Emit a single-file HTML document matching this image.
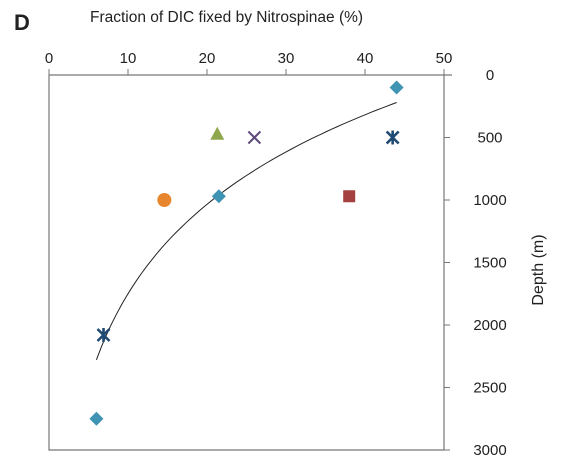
<!DOCTYPE html>
<html><head><meta charset="utf-8"><style>
body{margin:0;background:#fff;}
svg text{font-family:"Liberation Sans",sans-serif;fill:#222;}
</style></head><body>
<svg id="c" width="567" height="466" xmlns="http://www.w3.org/2000/svg">
<text x="14" y="30" font-size="22" font-weight="bold">D</text>
<text x="90" y="22" font-size="15.5">Fraction of DIC fixed by Nitrospinae (%)</text>
<text transform="translate(543,270) rotate(-90)" text-anchor="middle" font-size="16">Depth (m)</text>
<g id="axes"></g><g id="marks"></g>
</svg>
<script>
const xTicks=[0,10,20,30,40,50];
const yTicks=[0,500,1000,1500,2000,2500,3000];
const pointX=[44,21.3,26,43.5,14.6,21.5,38,6.9,6];
const pointY=[100,470,500,500,1000,970,970,2080,2750];
const pointShape=['diamond','triangle','x','asterisk','circle','diamond','square','asterisk','diamond'];
const fitA=4129, fitB=1033, fitX0=6, fitX1=44;
const L=49,R=444,T=75,B=450;
const sx=v=>L+(R-L)*v/50, sy=v=>T+(B-T)*v/3000;
const NS='http://www.w3.org/2000/svg';
const ax=document.getElementById('axes'), mk=document.getElementById('marks');
function mkEl(t,a,p){const e=document.createElementNS(NS,t);for(const k in a)e.setAttribute(k,a[k]);p.appendChild(e);return e;}
const frame=mkEl('path',{d:`M${L},${T}H${R+8}M${L},${T}V${B}H${R}V${T}`,stroke:'#777',fill:'none','stroke-width':1.2},ax);


xTicks.forEach(v=>{
 const x=sx(v);
 const t=mkEl('line',{x1:x,x2:x,y1:T-6,y2:T,stroke:'#777'},ax);
 
 
 const l=mkEl('text',{x:x,y:T-12,'text-anchor':'middle','font-size':15},ax);l.textContent=v;
 
 
});
yTicks.forEach(v=>{
 const y=sy(v);
 const t=mkEl('line',{x1:R,x2:R+6,y1:y,y2:y,stroke:'#777'},ax);
 
 
 const l=mkEl('text',{x:490,y:y+5,'text-anchor':'middle','font-size':15},ax);l.textContent=v;
 
 
});
let d='';
for(let i=0;i<=60;i++){const xv=fitX0+(fitX1-fitX0)*i/60;const yv=fitA-fitB*Math.log(xv);d+=(i?'L':'M')+sx(xv).toFixed(1)+','+sy(yv).toFixed(1);}
const fit=mkEl('path',{d:d,stroke:'#222',fill:'none','stroke-width':1},mk);


pointX.forEach((xv,i)=>{
 const x=sx(xv),y=sy(pointY[i]),s=pointShape[i];let e;
 if(s==='diamond')e=mkEl('path',{d:`M${x},${y-7}L${x+7},${y}L${x},${y+7}L${x-7},${y}Z`,fill:'#3f93b3'},mk);
 else if(s==='triangle')e=mkEl('path',{d:`M${x},${y-7}L${x+7},${y+6}L${x-7},${y+6}Z`,fill:'#8ea64c'},mk);
 else if(s==='x')e=mkEl('path',{d:`M${x-6},${y-6}L${x+6},${y+6}M${x+6},${y-6}L${x-6},${y+6}`,stroke:'#5e4a7a','stroke-width':2},mk);
 else if(s==='asterisk')e=mkEl('path',{d:`M${x-6},${y-6}L${x+6},${y+6}M${x+6},${y-6}L${x-6},${y+6}M${x},${y-7}V${y+7}`,stroke:'#1f4a74','stroke-width':2.6},mk);
 else if(s==='circle')e=mkEl('circle',{cx:x,cy:y,r:7,fill:'#e8862e'},mk);
 else e=mkEl('rect',{x:x-6,y:y-6,width:12,height:12,fill:'#a54040'},mk);
 
 
});
</script>
</body></html>
